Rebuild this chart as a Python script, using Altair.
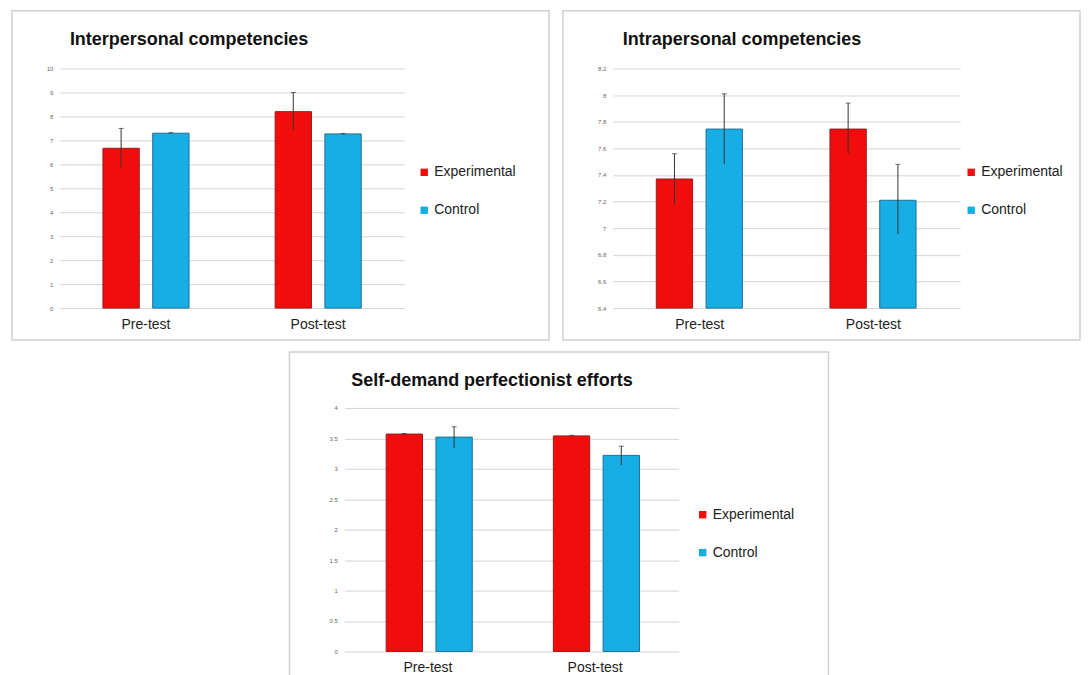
import altair as alt
import pandas as pd

FONT = "Liberation Sans"
RED = "#f20d0d"
BLUE = "#17aee6"

tests = ["Pre-test", "Pre-test", "Post-test", "Post-test"]
groups = ["Experimental", "Control", "Experimental", "Control"]

# Interpersonal competencies
inter_mean = [6.67, 7.30, 8.20, 7.27]
inter_lo = [5.87, 7.28, 7.45, 7.25]
inter_hi = [7.50, 7.32, 9.00, 7.29]
inter_ticks = [0, 1, 2, 3, 4, 5, 6, 7, 8, 9, 10]

# Intrapersonal competencies
intra_mean = [7.37, 7.745, 7.745, 7.21]
intra_lo = [7.18, 7.48, 7.56, 6.955]
intra_hi = [7.56, 8.01, 7.94, 7.48]
intra_ticks = [6.4, 6.6, 6.8, 7.0, 7.2, 7.4, 7.6, 7.8, 8.0, 8.2]

# Self-demand perfectionist efforts
self_mean = [3.57, 3.52, 3.54, 3.22]
self_lo = [3.56, 3.34, 3.53, 3.06]
self_hi = [3.58, 3.69, 3.55, 3.37]
self_ticks = [0, 0.5, 1, 1.5, 2, 2.5, 3, 3.5, 4]


def panel(title, mean, lo, hi, ticks, w, h, frame, legend_x, legend_y, title_dx):
    df = pd.DataFrame({"test": tests, "group": groups, "mean": mean, "lo": lo, "hi": hi})
    ydom = [ticks[0], ticks[-1]]
    yscale = alt.Scale(domain=ydom, zero=False, nice=False)
    yaxis = alt.Axis(values=ticks, format="~r", labelFontSize=6, labelColor="#666666",
                     labelFont=FONT, domain=False, ticks=False, labelPadding=7,
                     gridColor="#d4d4d4", gridWidth=1)
    x = alt.X("test:N", sort=["Pre-test", "Post-test"], title=None,
              scale=alt.Scale(paddingInner=0.5, paddingOuter=0.25),
              axis=alt.Axis(labelAngle=0, labelFontSize=14, labelColor="#222222",
                            labelFont=FONT, domain=False, ticks=False, labelPadding=9))
    xo = alt.XOffset("group:N", sort=["Experimental", "Control"],
                     scale=alt.Scale(paddingInner=0.27))
    base = alt.Chart(df)
    bars = base.mark_bar(strokeWidth=1).encode(
        x=x, xOffset=xo,
        y=alt.Y("mean:Q", scale=yscale, title=None, axis=yaxis),
        y2=alt.Y2(datum=ydom[0]),
        color=alt.Color("group:N", sort=["Experimental", "Control"],
                        scale=alt.Scale(domain=["Experimental", "Control"], range=[RED, BLUE]),
                        legend=alt.Legend(title=None, orient="none", legendX=w + legend_x,
                                          legendY=legend_y, symbolType="square",
                                          symbolSize=55, symbolStrokeWidth=0,
                                          labelFontSize=14, labelFont=FONT,
                                          labelColor="#222222", rowPadding=24,
                                          labelOffset=3)),
        stroke=alt.Stroke("group:N", scale=alt.Scale(domain=["Experimental", "Control"],
                                                     range=["#9a1a1a", "#1f6f95"]), legend=None),
    )
    rule = base.mark_rule(color="#333333", strokeWidth=1).encode(
        x=x, xOffset=xo, y=alt.Y("lo:Q", scale=yscale, title=None, axis=yaxis), y2="hi:Q")
    cap = base.mark_tick(color="#333333", thickness=1, size=5, orient="horizontal").encode(
        x=x, xOffset=xo, y=alt.Y("hi:Q", scale=yscale, title=None, axis=yaxis))
    l, r, t, b = frame
    one = alt.Chart(pd.DataFrame({"a": [0]}))
    box = one.mark_rect(fillOpacity=0, stroke="#d0d0d0", strokeWidth=1.5).encode(
        x=alt.value(l), x2=alt.value(w + r), y=alt.value(t), y2=alt.value(h + b))
    return alt.layer(bars, rule, cap, box).properties(
        width=w, height=h,
        title=alt.TitleParams(title, anchor="start", frame="group", fontSize=18, font=FONT,
                              fontWeight="bold", color="#111111", dx=title_dx, offset=-39),
    )


p1 = panel("Interpersonal competencies", inter_mean, inter_lo, inter_hi, inter_ticks,
           345, 240, (-48, 145, -58, 32), 13, 97, 10)
p2 = panel("Intrapersonal competencies", intra_mean, intra_lo, intra_hi, intra_ticks,
           348, 240, (-50, 120, -58, 32), 4, 97, 10)
p3 = panel("Self-demand perfectionist efforts", self_mean, self_lo, self_hi, self_ticks,
           335, 244, (-55, 150, -56, 40), 17, 100, 7)

# empty spacer view that pushes the bottom panel to the right
spacer = alt.Chart(pd.DataFrame({"a": [0]})).mark_point(opacity=0).encode(
    x=alt.value(0), y=alt.value(0)).properties(width=219, height=10)

top = alt.hconcat(p1, p2, spacing=12).resolve_scale(color="independent", stroke="independent")
bottom = alt.hconcat(spacer, p3, spacing=10).resolve_scale(color="independent", stroke="independent")
chart = alt.vconcat(top, bottom, spacing=10).resolve_scale(
    color="independent", stroke="independent"
).properties(
    background="white",
    padding={"left": 3, "top": 1, "right": 0, "bottom": 0},
).configure_view(strokeWidth=0, stroke="transparent")

chart.save("out.html", embed_options={"renderer": "svg", "actions": False})
